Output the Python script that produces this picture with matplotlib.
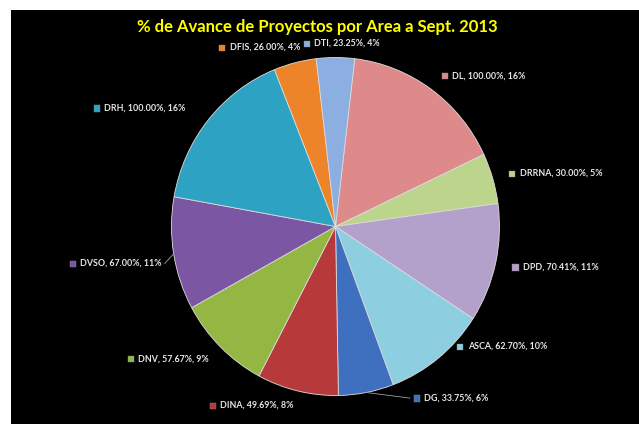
import numpy as np
import matplotlib
matplotlib.use('Agg')
import matplotlib.pyplot as plt
from matplotlib.patches import Rectangle
from matplotlib.offsetbox import AnnotationBbox, HPacker, TextArea, DrawingArea

# Datos (en el orden de las manecillas del reloj)
areas = ['DL', 'DRRNA', 'DPD', 'ASCA', 'DG', 'DINA', 'DNV', 'DVSO', 'DRH', 'DFIS', 'DTI']
avance = [100.00, 30.00, 70.41, 62.70, 33.75, 49.69, 57.67, 67.00, 100.00, 26.00, 23.25]
porcentaje = ['16%', '5%', '11%', '10%', '6%', '8%', '9%', '11%', '16%', '4%', '4%']
colores = ['#DE8A8B', '#BDD48D', '#B3A1CB', '#8DCFE0', '#3E70BF', '#B8393A',
           '#94B743', '#7B56A3', '#2EA2C2', '#EE8429', '#8DAEE0']

W, H = 639, 425
fig = plt.figure(figsize=(W / 100, H / 100), dpi=100, facecolor='white')

# Fondo negro
fondo = fig.add_axes([11 / W, 1 / H, 628 / W, 414 / H], zorder=-1)
fondo.set_facecolor('black')
fondo.set_xticks([])
fondo.set_yticks([])
for sp in fondo.spines.values():
    sp.set_visible(False)

fig.text(317 / W, 1 - 27 / H, '% de Avance de Proyectos por Area a Sept. 2013',
         color='#FFFF00', fontsize=12, fontweight='bold', family='Lato',
         ha='center', va='center')

# Pastel (ligeramente elíptico)
cx, cy, rx, ry = 335.5, 226.5, 164, 169
ax = fig.add_axes([(cx - rx) / W, (H - cy - ry) / H, 2 * rx / W, 2 * ry / H])
ax.patch.set_visible(False)

total = sum(avance)
start = 90 - (avance[-1] / total) * 180  # DTI centrado arriba
wedges, _ = ax.pie(avance, colors=colores, startangle=start, counterclock=False,
                   wedgeprops=dict(edgecolor='#DDDDDD', linewidth=0.6))
ax.set_aspect('auto')
ax.set_xlim(-1, 1)
ax.set_ylim(-1, 1)

# Ajustes manuales de etiquetas (en pixeles)
ajustes = {'ASCA': (8, 25), 'DG': (44, 11), 'DTI': (6, -3), 'DFIS': (9, -1),
           'DRH': (-10, 1), 'DVSO': (4, -7), 'DINA': (0, 2)}
lineas = ['DG', 'DVSO']

for w, area, av, pc, col in zip(wedges, areas, avance, porcentaje, colores):
    ang = np.deg2rad((w.theta1 + w.theta2) / 2)
    c, s = np.cos(ang), np.sin(ang)
    dx, dy = ajustes.get(area, (0, 0))
    lx = 1.1 * c + dx / rx
    ly = 1.1 * s + dy / ry
    if c > 0.1:
        al = 0
    elif c < -0.1:
        al = 1
    else:
        al = 0.5
    cuadro = DrawingArea(6, 6, 0, 0)
    cuadro.add_artist(Rectangle((0.5, 0.5), 4.5, 4.5, facecolor=col, edgecolor='#888888', lw=0.3))
    texto = TextArea(f'{area}, {av:.2f}%, {pc}',
                     textprops=dict(color='#E6E6E6', fontsize=6.4, fontweight='bold', family='Lato'))
    caja = HPacker(children=[cuadro, texto], pad=0, sep=2, align='center')
    ab = AnnotationBbox(caja, (lx, ly), box_alignment=(al, 0.5), frameon=False,
                        pad=0, annotation_clip=False)
    ax.add_artist(ab)
    if area in lineas:
        ax.plot([c, lx + (0.02 if al == 1 else -0.02)], [s, ly], color='#A0A0A0', lw=0.6,
                clip_on=False)

fig.savefig('out.png', dpi=100, facecolor='white')
